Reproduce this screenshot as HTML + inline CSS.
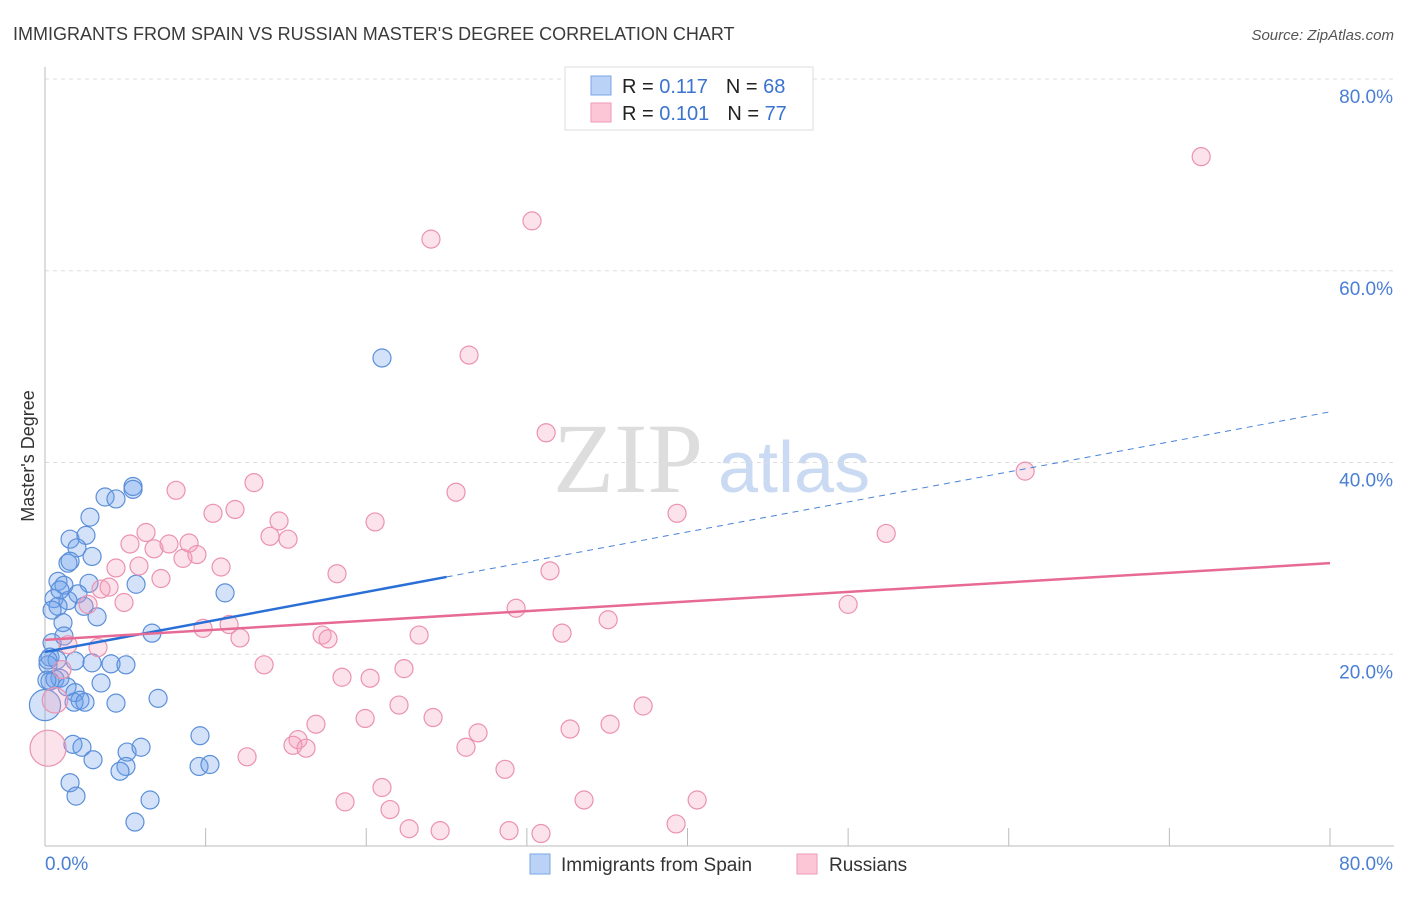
<!DOCTYPE html>
<html><head><meta charset="utf-8"><style>
body{margin:0;background:#fff;font-family:"Liberation Sans",sans-serif}
svg text{font-family:"Liberation Sans",sans-serif}
</style></head><body>
<svg id="chart" width="1406" height="892" viewBox="0 0 1406 892" xmlns="http://www.w3.org/2000/svg">
<text x="13" y="40" font-size="18" fill="#3a3a3a">IMMIGRANTS FROM SPAIN VS RUSSIAN MASTER'S DEGREE CORRELATION CHART</text>
<text x="1394" y="40" font-size="15" fill="#555" font-style="italic" text-anchor="end">Source: ZipAtlas.com</text>
<g>
<text x="553" y="492" font-size="100" fill="#ddd" font-family="Liberation Serif,serif" style="font-family:'Liberation Serif',serif">ZIP</text>
<text x="718" y="492" font-size="72" fill="#c9daf2">atlas</text>
</g>
<g id="grid"></g>
<g id="axes"></g>
<text transform="translate(34,456) rotate(-90)" font-size="18" fill="#333" text-anchor="middle">Master's Degree</text>
<g id="marks"></g>
<g id="lines"></g>
<g>
<rect x="565" y="67" width="248" height="63" fill="#fff" stroke="#ddd"/>
<rect x="591" y="76" width="20" height="19" fill="#b9d2f5" stroke="#7aa6e6"/>
<rect x="591" y="103" width="20" height="19" fill="#fcc6d6" stroke="#ee9ab5"/>
<text x="622" y="93" font-size="20" fill="#222">R = <tspan fill="#3b73d1">0.117</tspan><tspan dx="18">N = </tspan><tspan fill="#3b73d1">68</tspan></text>
<text x="622" y="120" font-size="20" fill="#222">R = <tspan fill="#3b73d1">0.101</tspan><tspan dx="18">N = </tspan><tspan fill="#3b73d1">77</tspan></text>
</g>
<g>
<rect x="530" y="854" width="20" height="20" fill="#b9d2f5" stroke="#7aa6e6"/>
<text x="561" y="871" font-size="19" fill="#333">Immigrants from Spain</text>
<rect x="797" y="854" width="20" height="20" fill="#fcc6d6" stroke="#ee9ab5"/>
<text x="829" y="871" font-size="19" fill="#333">Russians</text>
</g>
</svg>
<script>
const blueX=[20.98,3.74,4.42,5.48,5.48,2.80,1.56,2.55,1.99,2.93,1.43,1.56,0.81,1.18,2.74,5.67,2.05,0.56,1.43,0.81,2.43,3.24,11.21,1.12,6.66,0.44,1.18,0.31,0.75,0.19,1.87,2.93,4.11,5.04,0.93,0.31,0.62,3.49,1.37,1.87,2.18,1.81,2.49,4.42,7.04,1.74,2.30,2.99,5.11,5.98,9.65,9.59,10.27,5.04,4.67,1.56,1.93,6.54,5.60,0.12,0.19,0.44,0.93,0.0];
const blueY=[50.9,36.4,36.2,37.5,37.2,34.3,32.0,32.4,31.1,30.2,29.5,29.7,27.6,27.2,27.4,27.3,26.3,25.8,25.6,25.0,25.0,23.9,26.4,23.3,22.2,21.2,21.9,19.7,19.4,18.9,19.3,19.1,19.0,18.9,17.5,17.2,17.4,17.0,16.6,16.0,15.2,15.0,15.0,14.9,15.4,10.6,10.3,9.0,9.8,10.3,11.5,8.3,8.5,8.3,7.8,6.6,5.2,4.8,2.5,17.3,19.4,24.6,26.7,14.7];
const blueW=[1,1,1,1,1,1,1,1,1,1,1,1,1,1,1,1,1,1,1,1,1,1,1,1,1,1,1,1,1,1,1,1,1,1,1,1,1,1,1,1,1,1,1,1,1,1,1,1,1,1,1,1,1,1,1,1,1,1,1,1,1,1,1,3];
const pinkX=[71.98,30.32,24.03,26.40,31.20,61.02,25.59,13.01,8.16,10.46,11.83,20.55,14.57,39.35,52.37,6.29,5.29,6.79,7.72,8.97,9.46,8.59,14.01,15.13,10.96,5.85,4.42,7.22,18.18,31.44,3.49,3.99,4.92,2.68,50.0,29.33,35.06,9.84,11.46,12.14,17.25,17.62,23.29,32.19,3.30,1.43,13.64,22.35,18.49,20.24,1.06,16.87,19.93,22.04,24.16,32.69,35.18,37.24,15.75,15.44,16.25,26.96,26.21,12.58,28.64,20.98,18.68,21.48,33.56,40.60,22.67,24.60,28.89,30.88,39.29,0.19,0.62];
const pinkY=[71.9,65.2,63.3,51.2,43.1,39.1,36.9,37.9,37.1,34.7,35.1,33.8,33.9,34.7,32.6,32.7,31.5,31.0,31.5,31.6,30.4,30.0,32.3,32.0,29.1,29.2,29.0,27.9,28.4,28.7,26.8,27.0,25.4,25.2,25.2,24.8,23.6,22.7,23.1,21.7,22.0,21.6,22.0,22.2,20.7,21.0,18.9,18.5,17.6,17.5,18.4,12.7,13.3,14.7,13.4,12.2,12.7,14.6,11.1,10.5,10.2,11.8,10.3,9.3,8.0,6.1,4.6,3.8,4.8,4.8,1.8,1.6,1.6,1.3,2.3,10.2,15.2];
const pinkW=[1,1,1,1,1,1,1,1,1,1,1,1,1,1,1,1,1,1,1,1,1,1,1,1,1,1,1,1,1,1,1,1,1,1,1,1,1,1,1,1,1,1,1,1,1,1,1,1,1,1,1,1,1,1,1,1,1,1,1,1,1,1,1,1,1,1,1,1,1,1,1,1,1,1,1,4,2];
const blueTrend=[20.24,45.28];
const blueSolidEnd=25.0;
const pinkTrend=[21.5,29.5];
const yTicks=[20,40,60,80];
const yTickLabels=["20.0%","40.0%","60.0%","80.0%"];
const xTicks=[0,10,20,30,40,50,60,70,80];
const xTickLabels=["0.0%","80.0%"];

const NS="http://www.w3.org/2000/svg";
const X0=45,X1=1330,Y0=846,Y1=79;
const sx=v=>X0+(v/80)*(X1-X0);
const sy=v=>Y0-(v/80)*(Y0-Y1);
function mk(tag,attrs,parent){const e=document.createElementNS(NS,tag);for(const k in attrs)e.setAttribute(k,attrs[k]);parent.appendChild(e);return e;}
const grid=document.getElementById('grid'),axes=document.getElementById('axes'),marks=document.getElementById('marks'),lines=document.getElementById('lines');
yTicks.forEach((t,i)=>{
  const l=mk('line',{x1:X0,x2:1394,y1:sy(t),y2:sy(t),stroke:'#ddd','stroke-dasharray':'4,4'},grid);
  
  
  const tx=mk('text',{x:1393,y:sy(t)+24,'font-size':19,fill:'#4a7fd4','text-anchor':'end'},axes);
  tx.textContent=yTickLabels[i];
  
  
});
const ax=mk('line',{x1:X0,x2:X0,y1:67,y2:Y0,stroke:'#bbb'},axes);


const bx=mk('line',{x1:X0,x2:1394,y1:Y0,y2:Y0,stroke:'#bbb'},axes);


xTicks.forEach(t=>{
  const l=mk('line',{x1:sx(t),x2:sx(t),y1:828,y2:Y0,stroke:'#bbb'},axes);
  
  
});
const xl0=mk('text',{x:45,y:870,'font-size':19,fill:'#4a7fd4'},axes);
xl0.textContent=xTickLabels[0];


const xl1=mk('text',{x:1393,y:870,'font-size':19,fill:'#4a7fd4','text-anchor':'end'},axes);
xl1.textContent=xTickLabels[1];


function dots(xs,ys,ws,fill,stroke,name){
  xs.forEach((x,i)=>{
    const c=mk('circle',{cx:sx(x),cy:sy(ys[i]),r:9*Math.sqrt(ws[i]),fill:fill,stroke:stroke,'stroke-width':1.2},marks);
    
    
  });
}
dots(blueX,blueY,blueW,'rgba(110,160,235,0.3)','#5b8fd9','point-immigrants-from-spain');
dots(pinkX,pinkY,pinkW,'rgba(245,160,190,0.3)','#eb92b0','point-russians');
const by=x=>blueTrend[0]+(blueTrend[1]-blueTrend[0])*x/80;
const b1=mk('line',{x1:sx(0),y1:sy(by(0)),x2:sx(blueSolidEnd),y2:sy(by(blueSolidEnd)),stroke:'#2a6fd6','stroke-width':2.5},lines);


const b2=mk('line',{x1:sx(blueSolidEnd),y1:sy(by(blueSolidEnd)),x2:sx(80),y2:sy(by(80)),stroke:'#4a82d8','stroke-width':1,'stroke-dasharray':'6,5'},lines);


const p1=mk('line',{x1:sx(0),y1:sy(pinkTrend[0]),x2:sx(80),y2:sy(pinkTrend[1]),stroke:'#e76a96','stroke-width':2.5},lines);


</script>
</body></html>
